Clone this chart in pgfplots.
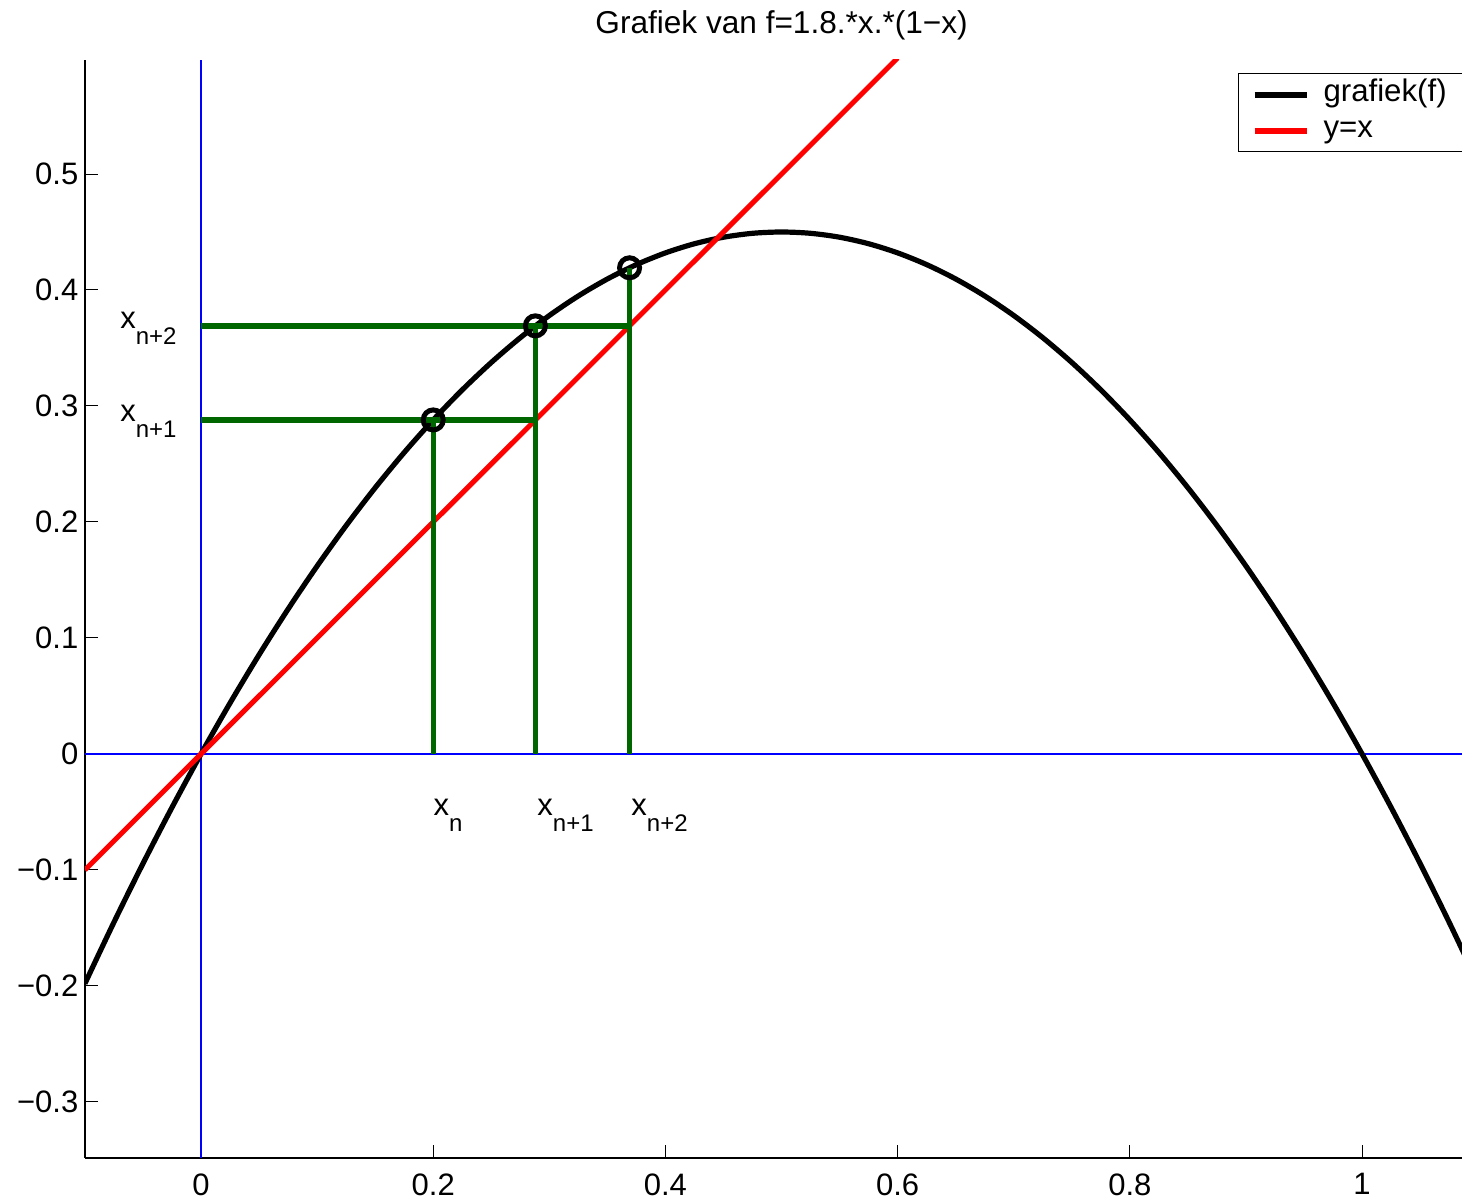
\documentclass[border=0pt]{standalone}
\usepackage{fontspec}
\setmainfont{Liberation Sans}
\usepackage{pgfplots}
\pgfplotsset{compat=1.18}
\definecolor{mgreen}{RGB}{0,102,0}
\begin{document}
\begin{tikzpicture}
\begin{axis}[
  scale only axis,
  width=696.6pt, height=549pt,
  xmin=-0.0999, xmax=1.1, ymin=-0.3483, ymax=0.5983,
  axis lines=left,
  axis line style={-, line width=0.6pt, black},
  tick align=inside,
  major tick length=6.5pt,
  every tick/.style={black, line width=0.5pt},
  xtick={0,0.2,0.4,0.6,0.8,1},
  xticklabels={0,0.2,0.4,0.6,0.8,1},
  ytick={-0.3,-0.2,-0.1,0,0.1,0.2,0.3,0.4,0.5},
  yticklabels={−0.3,−0.2,−0.1,0,0.1,0.2,0.3,0.4,0.5},
  tick label style={font=\fontsize{15.5}{18}\selectfont},
  yticklabel style={xshift=0.2pt},
  xticklabel style={yshift=-4.3pt},
  title={Grafiek van f=1.8.*x.*(1−x)},
  title style={font=\fontsize{15.8}{18}\selectfont, anchor=base, at={(axis description cs:0.5,1)}, yshift=7pt, inner sep=0pt},
  legend style={at={(axis cs:0.893,0.587)}, anchor=north west, draw=black, line width=0.7pt,
    font=\fontsize{15.6}{18}\selectfont, inner xsep=6.5pt, inner ysep=1.5pt, row sep=0pt, column sep=5pt,
    nodes={inner sep=2pt, text height=10.5pt, text depth=3.5pt}},
  legend cell align=left,
  legend image code/.code={\draw[#1, line width=3pt] (0pt,0pt) -- (26pt,0pt);},
]
% blue axes through origin
\addplot[color={rgb,255:red,0;green,0;blue,255}, line width=0.8pt, forget plot] coordinates {(0,-0.3483) (0,0.5983)};
\addplot[color={rgb,255:red,0;green,0;blue,255}, line width=0.8pt, forget plot] coordinates {(-0.0999,0) (1.1,0)};
% f(x) = 1.8 x (1-x), tabulated
\addplot[black, line width=2.6pt, smooth] coordinates {
(-0.1,-0.198) (-0.075,-0.145125) (-0.05,-0.0945) (-0.025,-0.046125) (0,0)
(0.025,0.043875) (0.05,0.0855) (0.075,0.124875) (0.1,0.162) (0.125,0.196875)
(0.15,0.2295) (0.175,0.259875) (0.2,0.288) (0.225,0.313875) (0.25,0.3375)
(0.275,0.358875) (0.3,0.378) (0.325,0.394875) (0.35,0.4095) (0.375,0.421875)
(0.4,0.432) (0.425,0.439875) (0.45,0.4455) (0.475,0.448875) (0.5,0.45)
(0.525,0.448875) (0.55,0.4455) (0.575,0.439875) (0.6,0.432) (0.625,0.421875)
(0.65,0.4095) (0.675,0.394875) (0.7,0.378) (0.725,0.358875) (0.75,0.3375)
(0.775,0.313875) (0.8,0.288) (0.825,0.259875) (0.85,0.2295) (0.875,0.196875)
(0.9,0.162) (0.925,0.124875) (0.95,0.0855) (0.975,0.043875) (1.0,0)
(1.025,-0.046125) (1.05,-0.0945) (1.075,-0.145125) (1.1,-0.198)};
\addlegendentry{grafiek(f)\hspace{6pt}}
\addplot[red, line width=2.5pt] coordinates {(-0.1,-0.1) (0.6,0.6)};
\addlegendentry{y=x}
% cobweb
\addplot[mgreen, line width=2.7pt, forget plot] coordinates {(0.2,0) (0.2,0.288)};
\addplot[mgreen, line width=2.7pt, forget plot] coordinates {(0,0.288) (0.288,0.288)};
\addplot[mgreen, line width=2.7pt, forget plot] coordinates {(0.288,0) (0.288,0.3691)};
\addplot[mgreen, line width=2.7pt, forget plot] coordinates {(0,0.3691) (0.3691,0.3691)};
\addplot[mgreen, line width=2.7pt, forget plot] coordinates {(0.3691,0) (0.3691,0.41915)};
\addplot[only marks, mark=o, mark size=5pt, black, mark options={line width=2.5pt}, forget plot]
  coordinates {(0.2,0.288) (0.288,0.3691) (0.3691,0.41915)};
% labels
\node[anchor=base west, inner sep=0pt, font=\fontsize{15.5}{18}\selectfont] at (axis cs:0.2,-0.0534) {x\raisebox{-8pt}{\fontsize{12}{13}\selectfont n}};
\node[anchor=base west, inner sep=0pt, font=\fontsize{15.5}{18}\selectfont] at (axis cs:0.2894,-0.0534) {x\raisebox{-8pt}{\fontsize{12}{13}\selectfont n+1}};
\node[anchor=base west, inner sep=0pt, font=\fontsize{15.5}{18}\selectfont] at (axis cs:0.3704,-0.0534) {x\raisebox{-8pt}{\fontsize{12}{13}\selectfont n+2}};
\node[anchor=base west, inner sep=0pt, font=\fontsize{15.5}{18}\selectfont] at (axis cs:-0.0698,0.367) {x\raisebox{-8pt}{\fontsize{12}{13}\selectfont n+2}};
\node[anchor=base west, inner sep=0pt, font=\fontsize{15.5}{18}\selectfont] at (axis cs:-0.0698,0.2864) {x\raisebox{-8pt}{\fontsize{12}{13}\selectfont n+1}};
\end{axis}
\pgfresetboundingbox
\path ([shift={(-42.5pt,-22.5pt)}]current axis.south west) rectangle ([shift={(688.5pt,579pt)}]current axis.south west);
\end{tikzpicture}
\end{document}
